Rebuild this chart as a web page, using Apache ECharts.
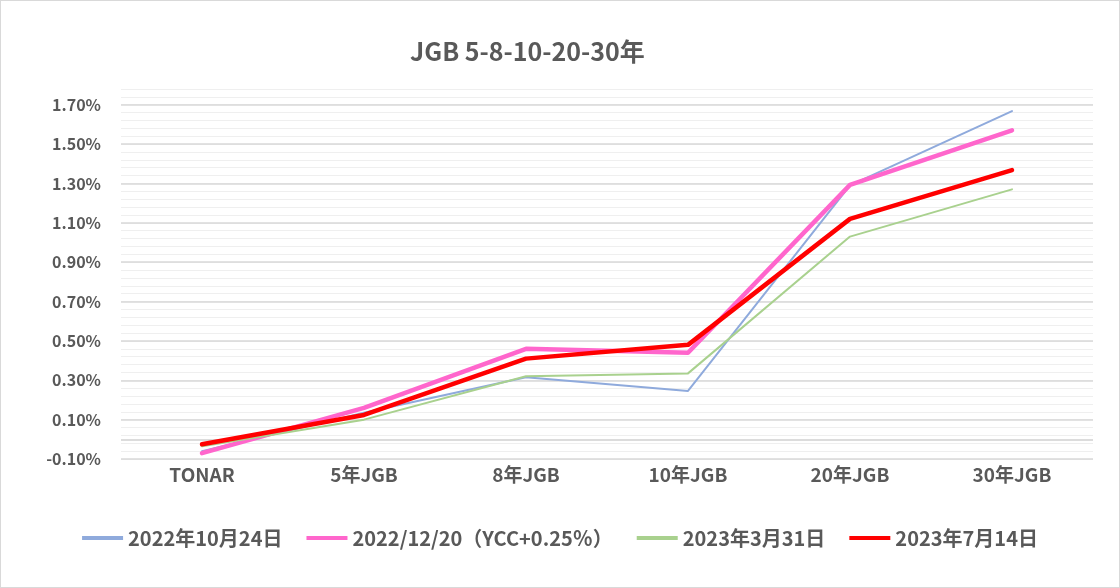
<!DOCTYPE html>
<html>
<head>
    <meta charset="utf-8">
    <title>JGB 5-8-10-20-30年</title>
    <script src="https://cdn.jsdelivr.net/npm/echarts@6/dist/echarts.min.js"></script>
    <style>
        html, body { margin: 0; padding: 0; background: #fff; }
        #main { width: 1118px; height: 586px; border: 1px solid #d9d9d9; }
    </style>
</head>
<body>
    <div id="main"></div>
    <script type="text/javascript">
    var categories = ['TONAR', '5年JGB', '8年JGB', '10年JGB', '20年JGB', '30年JGB'];
    var seriesNames = ['2022年10月24日', '2022/12/20（YCC+0.25％）', '2023年3月31日', '2023年7月14日'];
    var oct2022 = [-0.06, 0.135, 0.315, 0.246, 1.29, 1.668];
    var dec2022 = [-0.07, 0.16, 0.46, 0.44, 1.293, 1.57];
    var mar2023 = [-0.035, 0.10, 0.32, 0.335, 1.03, 1.27];
    var jul2023 = [-0.025, 0.124, 0.41, 0.48, 1.12, 1.368];
    var colors = ['#8faadc', '#ff66cc', '#a9d18e', '#ff0000'];
    var widths = [2, 4.5, 2, 4.5];

    var font = '"Noto Sans CJK JP", "Noto Sans", sans-serif';
    var textColor = '#595959';

    var allData = [oct2022, dec2022, mar2023, jul2023];
    var series = allData.map(function (d, i) {
        var s = {
            name: seriesNames[i],
            type: 'line',
            data: d,
            symbol: 'none',
            color: colors[i],
            lineStyle: { color: colors[i], width: widths[i], cap: 'round', join: 'round' },
            z: 10 + i
        };
        if (i === 0) {
            // excel draws the category axis at 0%
            s.markLine = {
                silent: true,
                symbol: 'none',
                label: { show: false },
                lineStyle: { color: '#d0d0d0', width: 1.5, type: 'solid' },
                data: [{ yAxis: 0 }]
            };
        }
        return s;
    });

    var legendData = seriesNames.map(function (n, i) {
        return { name: n, icon: 'rect', itemStyle: { color: colors[i] } };
    });

    var chart = echarts.init(document.getElementById('main'));
    chart.setOption({
        animation: false,
        textStyle: { fontFamily: font },
        title: {
            text: 'JGB 5-8-10-20-30年',
            left: 404,
            top: 33,
            textStyle: { fontFamily: font, fontSize: 25, fontWeight: 'bold', color: textColor }
        },
        grid: { left: 120, right: 26, top: 88, bottom: 128 },
        legend: {
            bottom: 34,
            left: 'center',
            itemWidth: 41,
            itemHeight: 4,
            itemGap: 24,
            textStyle: { fontFamily: font, fontSize: 20, fontWeight: 'bold', color: textColor },
            data: legendData
        },
        xAxis: {
            type: 'category',
            data: categories,
            boundaryGap: true,
            axisLine: { show: false },
            axisTick: { show: false },
            axisLabel: { fontFamily: font, fontSize: 19, fontWeight: 'bold', color: textColor, margin: 6 }
        },
        yAxis: [{
            type: 'value',
            min: -0.1,
            max: 1.78,
            interval: 0.2,
            z: 3,
            axisLine: { show: false },
            axisTick: { show: false },
            axisLabel: {
                fontFamily: font, fontSize: 16, fontWeight: 'bold', color: textColor, margin: 20,
                showMaxLabel: false,
                formatter: function (v) { return v.toFixed(2) + '%'; }
            },
            splitLine: { show: true, showMaxLine: false, lineStyle: { color: '#d9d9d9', width: 1.5 } }
        }, {
            type: 'value',
            min: -0.1,
            max: 1.78,
            interval: 0.04,
            z: 1,
            position: 'left',
            axisLine: { show: false },
            axisTick: { show: false },
            axisLabel: { show: false },
            splitLine: { show: true, lineStyle: { color: '#efefef', width: 1 } }
        }],
        series: series
    });
    </script>
</body>
</html>
